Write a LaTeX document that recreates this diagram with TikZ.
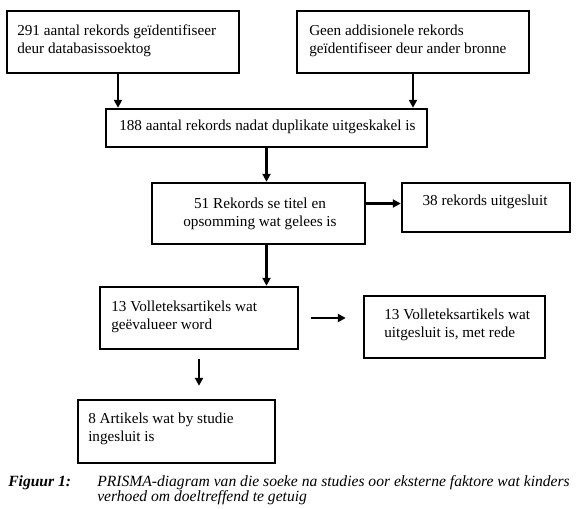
\documentclass[tikz,border=0pt]{standalone}
\usepackage{fontspec}
\setmainfont{Liberation Serif}
\usetikzlibrary{arrows.meta,calc,positioning,fit}
\tikzset{
  bx/.style={rectangle,draw=black,line width=1.8pt,inner sep=0pt},
  tx/.style={inner sep=0pt,align=left,font=\fontsize{11.4}{13.2}\selectfont},
  txc/.style={tx,align=center},
  capt/.style={inner sep=0pt,align=left,font=\fontsize{11.7}{11.6}\selectfont\itshape},
  arr/.style={-{Triangle[length=6pt,width=6pt]},line width=1.6pt,draw=black},
}

\begin{document}
\begin{tikzpicture}[x=0.75pt,y=-0.75pt]
\useasboundingbox (0,0) rectangle (579,508);
% ---- boxes
\node[bx,fit={(7,11) (239,73)}] (db) {};
\node[bx,fit={(297,11) (529,73)}] (oth) {};
\node[bx,fit={(106,109) (427,147)}] (dup) {};
\node[bx,fit={(152,183) (365,244)}] (scr) {};
\node[bx,fit={(402,183) (570,232)}] (exc) {};
\node[bx,fit={(100,287) (298,349)}] (ft) {};
\node[bx,fit={(364,296) (545,358)}] (ftx) {};
\node[bx,fit={(78,400) (275,463)}] (inc) {};
% ---- texts
\node[tx,anchor=north west] at (17,25)
  {291 aantal rekords geïdentifiseer\\deur databasissoektog};
\node[tx,anchor=north west] at (309,25)
  {Geen addisionele rekords\\geïdentifiseer deur ander bronne};
\node[tx,anchor=north west] at (119,120)
  {188 aantal rekords nadat duplikate uitgeskakel is};
\node[txc,anchor=north] at (260,198)
  {51 Rekords se titel en\\opsomming wat gelees is};
\node[txc,anchor=north] at (485,195) {38 rekords uitgesluit};
\node[tx,anchor=north west] at (111,301)
  {13 Volleteksartikels wat\\geëvalueer word};
\node[tx,anchor=north west] at (384,309)
  {13 Volleteksartikels wat\\uitgesluit is, met rede};
\node[tx,anchor=north west] at (88,413)
  {8 Artikels wat by studie\\ingesluit is};
% ---- arrows
\draw[arr] (db.south) ++(-5,0) coordinate (t1) -- (t1 |- dup.north);
\draw[arr] (oth.south) -- (oth.south |- dup.north);
\draw[arr] (dup.south) -- (dup.south |- scr.north);
\path (exc.west) ++(0,-4) coordinate (t2);
\draw[arr] (scr.east |- t2) -- (t2);
\draw[arr] (dup.south |- scr.south) -- (dup.south |- ft.north);
\draw[arr,shorten <=9pt,shorten >=12.75pt] (ft.east) -- (ft.east -| ftx.west);
\draw[arr,shorten <=6.75pt,shorten >=9.75pt] (ft.south) -- (ft.south |- inc.north);
% ---- caption
\node[capt,anchor=north west] (fig) at (8,475) {\bfseries Figuur 1:};
\node[capt,anchor=north west] at (97,475)
  {PRISMA-diagram van die soeke na studies oor eksterne faktore wat kinders\\
   verhoed om doeltreffend te getuig};
\end{tikzpicture}
\end{document}
